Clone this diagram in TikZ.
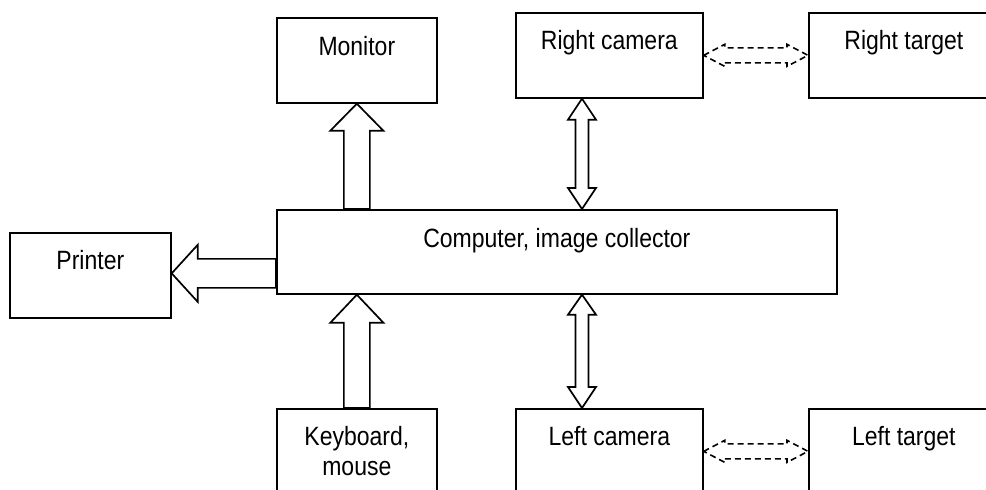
\documentclass[tikz,border=0pt]{standalone}
\usepackage{fontspec}
\usepackage{graphicx}
\setmainfont{Liberation Sans}
\usetikzlibrary{calc}
% slightly tall lettering used in all box labels
\newcommand{\stretchtxt}[1]{\scalebox{1}[1.15]{#1}}
\begin{document}
\begin{tikzpicture}[x=1pt,y=-1pt,
  box/.style={draw=black, line width=1.7pt, inner sep=0pt, anchor=north west},
  lbl/.style={font=\fontsize{23}{30}\selectfont, inner sep=0pt, anchor=base, align=center},
  hollow/.style={draw=black, line width=1.7pt, fill=white, line join=miter},
  dashhollow/.style={draw=black, line width=1.6pt, dash pattern=on 6pt off 4pt, line join=miter}]
\useasboundingbox (0,0) rectangle (986,490);
\clip (0,0) rectangle (986,490);

% boxes
\node[box, minimum width=160pt, minimum height=85pt] (mon)  at (276,17)  {};
\node[box, minimum width=187pt, minimum height=85pt] (rcam) at (515,12)  {};
\node[box, minimum width=190pt, minimum height=85pt] (rtgt) at (808,12)  {};
\node[box, minimum width=560pt, minimum height=84pt] (comp) at (276,209) {};
\node[box, minimum width=161pt, minimum height=85pt] (prn)  at (9,232)   {};
\node[box, minimum width=160pt, minimum height=85pt] (kbd)  at (276,408) {};
\node[box, minimum width=187pt, minimum height=85pt] (lcam) at (515,408) {};
\node[box, minimum width=190pt, minimum height=85pt] (ltgt) at (808,408) {};

% labels, set near the top of each box
\node[lbl] (monT)  at ([yshift=-38pt]mon.north)  {\stretchtxt{Monitor}};
\node[lbl] (rcamT) at ([yshift=-37pt]rcam.north) {\stretchtxt{Right camera}};
\node[lbl] (rtgtT) at ([yshift=-37pt]rtgt.north) {\stretchtxt{Right target}};
\node[lbl] (compT) at ([yshift=-38pt]comp.north) {\stretchtxt{Computer, image collector}};
\node[lbl] (prnT)  at ([yshift=-37pt]prn.north)  {\stretchtxt{Printer}};
% two-line label: its base anchor sits on the second line
\node[lbl] (kbdT)  at ([yshift=-67pt]kbd.north)  {\stretchtxt{Keyboard,}\\\stretchtxt{mouse}};
\node[lbl] (lcamT) at ([yshift=-37pt]lcam.north) {\stretchtxt{Left camera}};
\node[lbl] (ltgtT) at ([yshift=-37pt]ltgt.north) {\stretchtxt{Left target}};

% computer -> monitor
\draw[hollow] let \p1=(mon.south), \p2=(comp.north) in
  (\x1,\y1) -- (\x1+26.5pt,\y1-27pt) -- (\x1+13pt,\y1-27pt) -- (\x1+13pt,\y2)
  -- (\x1-13pt,\y2) -- (\x1-13pt,\y1-27pt) -- (\x1-26.5pt,\y1-27pt) -- cycle;

% keyboard -> computer
\draw[hollow] let \p1=(kbd.north), \p2=(comp.south) in
  (\x1,\y2) -- (\x1+26.5pt,\y2-28pt) -- (\x1+13pt,\y2-28pt) -- (\x1+13pt,\y1)
  -- (\x1-13pt,\y1) -- (\x1-13pt,\y2-28pt) -- (\x1-26.5pt,\y2-28pt) -- cycle;

% computer -> printer
\draw[hollow] let \p1=(prn.east), \p2=(comp.west) in
  (\x1,\y1+2pt) -- (\x1+26pt,\y1+30.5pt) -- (\x1+26pt,\y1+16.5pt) -- (\x2,\y1+16.5pt)
  -- (\x2,\y1-12.5pt) -- (\x1+26pt,\y1-12.5pt) -- (\x1+26pt,\y1-26.5pt) -- cycle;

% right camera <-> computer
\draw[hollow] let \p1=(582,0 |- rcam.south), \p2=(comp.north) in
  (\x1,\y1) -- (\x1+14pt,\y1-21pt) -- (\x1+6.5pt,\y1-21pt) -- (\x1+6.5pt,\y2+21pt)
  -- (\x1+14pt,\y2+21pt) -- (\x1,\y2) -- (\x1-14pt,\y2+21pt) -- (\x1-6.5pt,\y2+21pt)
  -- (\x1-6.5pt,\y1-21pt) -- (\x1-14pt,\y1-21pt) -- cycle;

% computer <-> left camera
\draw[hollow] let \p1=(582,0 |- comp.south), \p2=(lcam.north) in
  (\x1,\y1) -- (\x1+14pt,\y1-20pt) -- (\x1+6.5pt,\y1-20pt) -- (\x1+6.5pt,\y2+21pt)
  -- (\x1+14pt,\y2+21pt) -- (\x1,\y2) -- (\x1-14pt,\y2+21pt) -- (\x1-6.5pt,\y2+21pt)
  -- (\x1-6.5pt,\y1-20pt) -- (\x1-14pt,\y1-20pt) -- cycle;

% right camera <-> right target (dashed)
\draw[dashhollow] let \p1=(rcam.east), \p2=(rtgt.west) in
  (\x1,\y1) -- (\x1+21pt,\y1+11pt) -- (\x1+21pt,\y1+7.5pt) -- (\x2-21pt,\y1+7.5pt)
  -- (\x2-21pt,\y1+11pt) -- (\x2,\y1) -- (\x2-21pt,\y1-11pt) -- (\x2-21pt,\y1-7.5pt)
  -- (\x1+21pt,\y1-7.5pt) -- (\x1+21pt,\y1-11pt) -- cycle;

% left camera <-> left target (dashed)
\draw[dashhollow] let \p1=(lcam.east), \p2=(ltgt.west) in
  (\x1,\y1) -- (\x1+21pt,\y1+11pt) -- (\x1+21pt,\y1+7.5pt) -- (\x2-21pt,\y1+7.5pt)
  -- (\x2-21pt,\y1+11pt) -- (\x2,\y1) -- (\x2-21pt,\y1-11pt) -- (\x2-21pt,\y1-7.5pt)
  -- (\x1+21pt,\y1-7.5pt) -- (\x1+21pt,\y1-11pt) -- cycle;
\end{tikzpicture}
\end{document}
